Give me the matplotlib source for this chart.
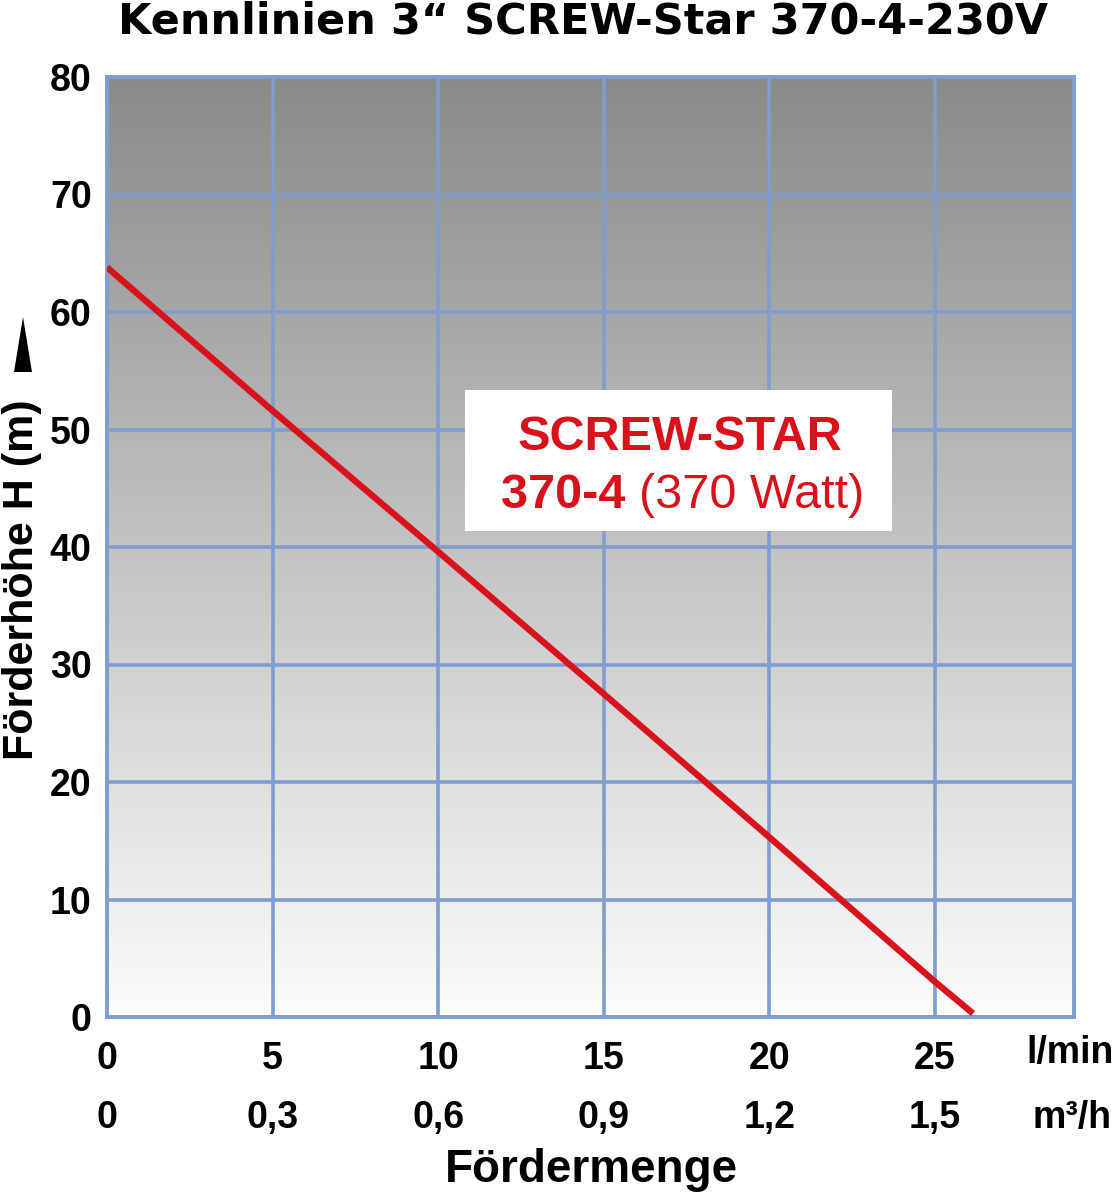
import numpy as np
import matplotlib
matplotlib.use("Agg")
import matplotlib.pyplot as plt
from matplotlib.transforms import blended_transform_factory
from matplotlib.patches import Polygon, Rectangle

# ---- data ----
flow_lmin = [0, 5, 10, 15, 20, 25, 26.15]
head_m = [63.8, 51.6, 39.6, 27.5, 15.3, 3.0, 0.3]
x_ticks = [0, 5, 10, 15, 20, 25]
x_tick_labels = ["0", "5", "10", "15", "20", "25"]
m3h_labels = ["0", "0,3", "0,6", "0,9", "1,2", "1,5"]
y_ticks = [0, 10, 20, 30, 40, 50, 60, 70, 80]
y_tick_labels = [str(v) for v in y_ticks]

plt.rcParams['font.family'] = ['Liberation Sans', 'DejaVu Sans']

W, H = 1117, 1200
fig = plt.figure(figsize=(W / 100, H / 100), dpi=100)
L, R, T, B = 107, 1074, 77, 1017
ax = fig.add_axes([L / W, 1 - B / H, (R - L) / W, (B - T) / H])
ax.set_xlim(0, 29.2)
ax.set_ylim(0, 80)

# gradient background
grad = np.linspace(0, 1, 256).reshape(-1, 1)
top = np.array([138, 138, 138]) / 255
bot = np.array([252, 252, 252]) / 255
img = top[None, None, :] * (1 - grad[:, :, None]) + bot[None, None, :] * grad[:, :, None]
ax.imshow(img, extent=[0, 29.2, 0, 80], aspect='auto', origin='upper', zorder=0)

grid_c = '#7f9dcf'
ax.set_xticks(x_ticks)
ax.set_xticklabels(x_tick_labels)
ax.set_yticks(y_ticks)
ax.set_yticklabels(y_tick_labels)
ax.grid(True, color=grid_c, linewidth=2.6, zorder=1)
for s in ax.spines.values():
    s.set_color(grid_c)
    s.set_linewidth(2.8)
ax.tick_params(length=0, labelsize=27)
for lab in ax.get_xticklabels() + ax.get_yticklabels():
    lab.set_fontweight('bold')
ax.tick_params(axis='x', pad=17)
ax.tick_params(axis='y', pad=11)

# curve
ax.plot(flow_lmin, head_m, color='#d9121c', linewidth=4.6, solid_capstyle='butt', zorder=3)

# label box
ax.add_patch(Rectangle((10.8, 41.4), 12.9, 12.0, facecolor='white', edgecolor='none', zorder=4))
red = '#d8111b'
ax.text(17.3, 49.3, "SCREW-STAR", color=red, fontsize=35, fontweight='bold',
        ha='center', va='center', zorder=5)
t1 = ax.text(11.9, 44.4, "370-4 ", color=red, fontsize=35, fontweight='bold',
             ha='left', va='center', zorder=5)
ax.annotate("(370 Watt)", xycoords=t1, xy=(1, 0.5), va='center', ha='left',
            color=red, fontsize=35, zorder=5)

# second x row
trans = blended_transform_factory(ax.transData, fig.transFigure)
for xv, lab in zip(x_ticks, m3h_labels):
    ax.text(xv, 1 - 1118 / H, lab, transform=trans, ha='center', va='center',
            fontsize=27, fontweight='bold')
fig.text(1114 / W, 1 - 1053 / H, "l/min", ha='right', va='center', fontsize=27, fontweight='bold')
fig.text(1112 / W, 1 - 1118 / H, "m³/h", ha='right', va='center',
         fontsize=27, fontweight='bold')

fig.text(591 / W, 1 - 1170 / H, "Fördermenge", ha='center', va='center', fontsize=33, fontweight='bold')
fig.text(22 / W, 1 - 580 / H, "Förderhöhe H (m)", rotation=90, ha='center', va='center',
         fontsize=31, fontweight='bold')
fig.patches.append(Polygon([[14 / W, 1 - 372 / H], [32 / W, 1 - 372 / H], [23 / W, 1 - 317 / H]],
                           closed=True, transform=fig.transFigure, facecolor='black', edgecolor='none'))

fig.text(583 / W, 1 - 21 / H, "Kennlinien 3“ SCREW-Star 370-4-230V", ha='center', va='center',
         fontsize=31, fontweight='heavy', family=['DejaVu Sans'])

fig.savefig("out.png", dpi=100, facecolor='white')
